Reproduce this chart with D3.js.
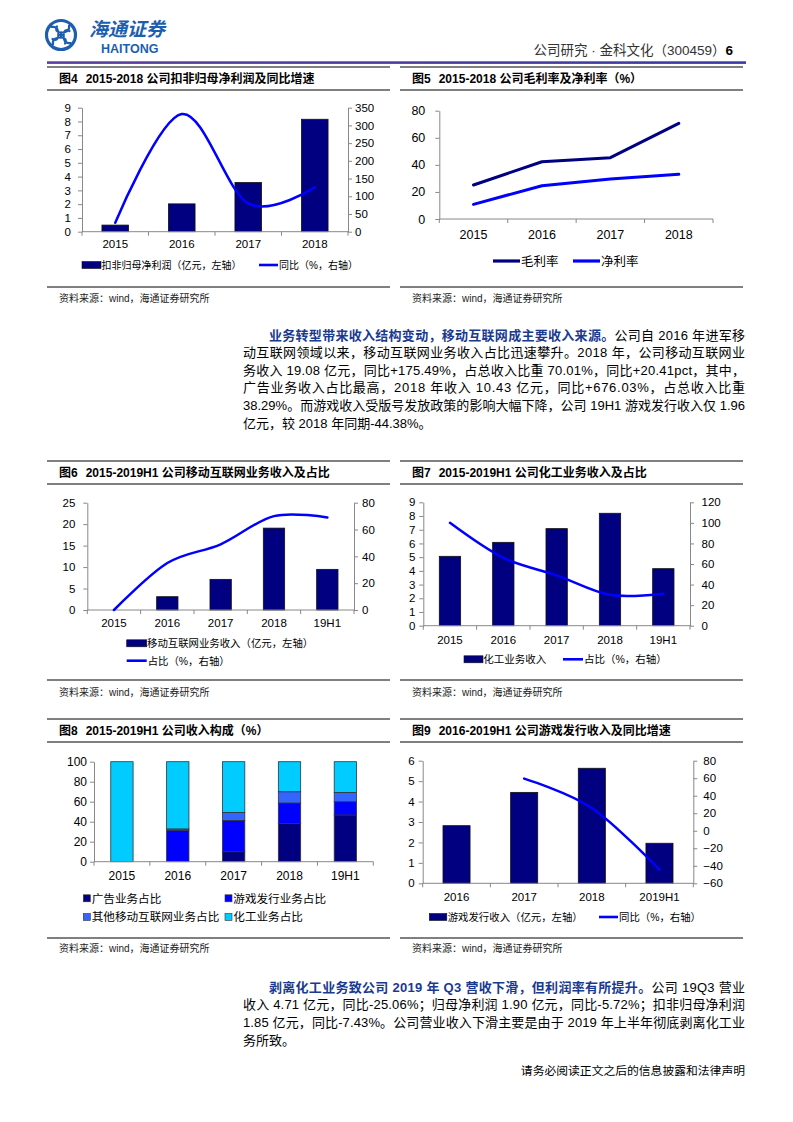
<!DOCTYPE html>
<html><head><meta charset="utf-8">
<script src="https://cdn.jsdelivr.net/npm/d3@7"></script>
<style>body{margin:0;background:#fff} svg{display:block}</style>
</head><body><svg id="pg" width="793" height="1122"></svg>
<script>
const CJK = "'Noto Sans CJK SC', sans-serif";
const NUM = "'Liberation Sans', Arial, 'Noto Sans CJK SC', sans-serif";

// ---------------- data ----------------
const years4 = ["2015", "2016", "2017", "2018"];
const kfProfit = [0.48, 2.02, 3.57, 8.16];          // 扣非归母净利润（亿元）
const kfProfitYoY = [25, 332, 80, 125];              // 同比 %
const grossMargin = [25.1, 42.3, 45.3, 70.6];        // 毛利率
const netMargin = [10.8, 24.6, 29.5, 33.0];          // 净利率
const years5 = ["2015", "2016", "2017", "2018", "19H1"];
const mobileRev = [0, 3.1, 7.14, 19.08, 9.47];       // 移动互联网业务收入
const mobileShare = [0, 35, 49, 70.01, 69];          // 占比 %
const chemRev = [5.06, 6.08, 7.08, 8.2, 4.16];       // 化工业务收入
const chemShare = [100, 66, 49, 30, 31];             // 占比 %
const adShare = [0, 0, 10, 38.29, 46.7];             // 广告业务占比
const gameShare = [0, 31.5, 31.3, 20.4, 13.3];       // 游戏发行业务占比
const otherMobileShare = [0, 1.3, 8, 11.3, 9.3];     // 其他移动互联网业务占比
const chemShareStack = [100, 67.2, 50.7, 30, 30.7];  // 化工业务占比
const gameYears = ["2016", "2017", "2018", "2019H1"];
const gameRev = [2.82, 4.45, 5.63, 1.96];            // 游戏发行收入
const gameYoY = [null, 59.5, 26, -44.38];            // 同比 %

const leftTicks4 = d3.range(0, 10, 1), rightTicks4 = d3.range(0, 351, 50);
const ticks5 = d3.range(0, 81, 20);
const leftTicks6 = d3.range(0, 26, 5), rightTicks6 = d3.range(0, 81, 20);
const leftTicks7 = d3.range(0, 10, 1), rightTicks7 = d3.range(0, 121, 20);
const ticks8 = d3.range(0, 101, 20);
const leftTicks9 = d3.range(0, 7, 1), rightTicks9 = d3.range(-60, 81, 20);

const NAVY = "#000080", BLUE = "#0000FF";
const svg = d3.select("#pg");

// ---------------- header ----------------
const lg = svg.append("g").attr("transform", "translate(61,35)");
lg.append("circle").attr("r", 14.5).attr("fill", "none").attr("stroke", "#1d5fae").attr("stroke-width", 3.2);
for (let k = 0; k < 4; k++) {
  lg.append("path").attr("transform", `rotate(${k * 90})`)
    .attr("d", "M0,-2.5 C5,-2.5 9,-4 8,-9.5 M2.5,0 C2.5,-4 5,-6 8.5,-4")
    .attr("fill", "none").attr("stroke", "#1d5fae").attr("stroke-width", 2.2).attr("stroke-linecap", "round");
}
lg.append("path").attr("d", "M-3,0H3M0,-3V3").attr("stroke", "#1d5fae").attr("stroke-width", 2);
svg.append("text").attr("x", 89).attr("y", 36).attr("font-family", CJK).attr("font-weight", 700)
  .attr("font-size", 19).attr("fill", "#1d5fae").attr("font-style", "italic").text("海通证券");
svg.append("text").attr("x", 101).attr("y", 53).attr("font-family", NUM).attr("font-weight", 700)
  .attr("font-size", 12.5).attr("fill", "#1d5fae").text("HAITONG");
const ht = svg.append("text").attr("x", 733).attr("y", 55).attr("text-anchor", "end")
  .attr("font-family", NUM).attr("font-size", 13.5).attr("fill", "#333");
ht.append("tspan").text("公司研究 · 金科文化（300459）");
ht.append("tspan").attr("font-weight", 700).attr("fill", "#000").text("6");
const grad = svg.append("defs").append("linearGradient").attr("id", "hg");
grad.append("stop").attr("offset", "0").attr("stop-color", "#5a3f9c");
grad.append("stop").attr("offset", "1").attr("stop-color", "#3a3aa6");
svg.append("rect").attr("x", 47).attr("y", 61.3).attr("width", 699).attr("height", 2.6).attr("fill", "url(#hg)");

// ---------------- panel frames ----------------
function frame(x0, x1, yTop, yBot, yBottomLine, num, title, srcY) {
  svg.append("line").attr("x1", x0).attr("x2", x1).attr("y1", yTop).attr("y2", yTop).attr("stroke", "#000").attr("stroke-width", 1);
  svg.append("line").attr("x1", x0).attr("x2", x1).attr("y1", yBot).attr("y2", yBot).attr("stroke", "#000").attr("stroke-width", 1);
  const t = svg.append("text").attr("x", x0 + 12).attr("y", (yTop + yBot) / 2 + 4.3).attr("font-family", NUM)
    .attr("font-weight", 700).attr("font-size", 12).attr("fill", "#000");
  t.append("tspan").text(num);
  t.append("tspan").attr("dx", 8).text(title);
  svg.append("line").attr("x1", x0).attr("x2", x1).attr("y1", yBottomLine).attr("y2", yBottomLine).attr("stroke", "#000").attr("stroke-width", 1);
  svg.append("text").attr("x", x0 + 12).attr("y", srcY).attr("font-family", NUM)
    .attr("font-size", 10).attr("fill", "#222").text("资料来源：wind，海通证券研究所");
}
frame(47, 390, 67, 90, 287, "图4", "2015-2018 公司扣非归母净利润及同比增速", 301.5);
frame(400, 743, 67, 90, 287, "图5", "2015-2018 公司毛利率及净利率（%）", 301.5);
frame(47, 390, 461, 484, 680, "图6", "2015-2019H1 公司移动互联网业务收入及占比", 695.5);
frame(400, 743, 461, 484, 680, "图7", "2015-2019H1 公司化工业务收入及占比", 695.5);
frame(47, 390, 719, 742, 938, "图8", "2015-2019H1 公司收入构成（%）", 951.5);
frame(400, 743, 719, 742, 938, "图9", "2016-2019H1 公司游戏发行收入及同比增速", 951.5);

// ---------------- chart helpers ----------------
function styleAxis(sel, fs) {
  sel.selectAll("path.domain").attr("stroke", "#888").attr("stroke-width", 1);
  sel.selectAll(".tick line").attr("stroke", "#888");
  sel.selectAll("text").attr("font-family", NUM).attr("font-size", fs).attr("fill", "#000");
}
function chart(o) {
  const g = svg.append("g");
  const x = d3.scaleBand().domain(o.cats).range([o.x0, o.x1]).paddingInner(0.6).paddingOuter(0.3);
  const yL = d3.scaleLinear().domain(o.lDom).range([o.yB, o.yT]);
  const yR = o.rDom ? d3.scaleLinear().domain(o.rDom).range([o.yB, o.yT]) : null;
  const fs = o.fs || 11.5;
  const ga = g.append("g").attr("transform", `translate(${o.x0},0)`)
    .call(d3.axisLeft(yL).tickValues(o.lTicks).tickSize(4).tickSizeOuter(0).tickPadding(o.lPad).tickFormat(d3.format("d")));
  styleAxis(ga, fs);
  if (yR) {
    const gr = g.append("g").attr("transform", `translate(${o.x1},0)`)
      .call(d3.axisRight(yR).tickValues(o.rTicks).tickSize(4).tickSizeOuter(0).tickPadding(o.rPad).tickFormat(d3.format("d")));
    styleAxis(gr, fs);
  }
  if (o.bars) {
    g.selectAll("rect.b").data(o.cats.map((c, i) => ({ c, v: o.bars[i] })).filter(d => d.v > 0)).join("rect")
      .attr("x", d => x(d.c)).attr("width", x.bandwidth())
      .attr("y", d => yL(d.v)).attr("height", d => yL(0) - yL(d.v))
      .attr("fill", NAVY).attr("stroke", "#111").attr("stroke-width", 0.8);
  }
  if (o.stack) {
    const rows = o.cats.map((c, i) => { const r = { c }; o.stack.keys.forEach((k, j) => r[k] = o.stack.vals[j][i]); return r; });
    const st = d3.stack().keys(o.stack.keys)(rows);
    st.forEach((layer, j) => {
      g.selectAll(null).data(layer.filter(d => d[1] - d[0] > 0)).join("rect")
        .attr("x", d => x(d.data.c)).attr("width", x.bandwidth())
        .attr("y", d => yL(d[1])).attr("height", d => yL(d[0]) - yL(d[1]))
        .attr("fill", o.stack.colors[j]).attr("stroke", "#333").attr("stroke-width", 0.8);
    });
  }
  const gx = g.append("g").attr("transform", `translate(0,${o.yB})`)
    .call(d3.axisBottom(x).tickSize(0).tickPadding(o.xPad));
  gx.select("path.domain").remove();
  styleAxis(gx, fs);
  g.append("line").attr("x1", o.x0).attr("x2", o.x1).attr("y1", o.yB).attr("y2", o.yB).attr("stroke", "#888");
  const bounds = o.cats.map(c => x(c) - x.step() * x.paddingInner() / 2).concat([o.x1]);
  g.selectAll("line.xt").data(bounds).join("line")
    .attr("x1", d => d).attr("x2", d => d).attr("y1", o.yB).attr("y2", o.yB + 4).attr("stroke", "#888");
  (o.lines || []).forEach(L => {
    const sc = L.axis === "right" ? yR : yL;
    const pts = o.cats.map((c, i) => ({ c, v: L.vals[i] }));
    const gen = d3.line().defined(d => d.v != null)
      .x(d => x(d.c) + x.bandwidth() / 2).y(d => sc(d.v))
      .curve(L.smooth ? d3.curveCardinal.tension(0) : d3.curveLinear);
    g.append("path").attr("d", gen(pts)).attr("fill", "none").attr("stroke", L.color)
      .attr("stroke-width", L.w || 2.5).attr("stroke-linejoin", "round").attr("stroke-linecap", "round");
  });
}
function legend(items, fs) {
  items.forEach(it => {
    if (it.type === "bar") {
      svg.append("rect").attr("x", it.x).attr("y", it.y - 3.5).attr("width", it.w).attr("height", 7)
        .attr("fill", it.color).attr("stroke", "#111").attr("stroke-width", 0.6);
    } else if (it.type === "sq") {
      svg.append("rect").attr("x", it.x).attr("y", it.y - 3.5).attr("width", 7).attr("height", 7)
        .attr("fill", it.color).attr("stroke", "#333").attr("stroke-width", 0.6);
    } else {
      svg.append("line").attr("x1", it.x).attr("x2", it.x + it.w).attr("y1", it.y).attr("y2", it.y)
        .attr("stroke", it.color).attr("stroke-width", it.lw || 2.6);
    }
    svg.append("text").attr("x", it.tx).attr("y", it.y + fs * 0.38).attr("font-family", NUM)
      .attr("font-size", fs).attr("fill", "#000").text(it.text);
  });
}

// 图4
chart({ cats: years4, x0: 82, x1: 348, yT: 107.7, yB: 231.7, lDom: [0, 9], lTicks: leftTicks4,
  rDom: [0, 350], rTicks: rightTicks4, lPad: 7, rPad: 3, xPad: 8.5, fs: 11.5, bars: kfProfit,
  lines: [{ vals: kfProfitYoY, axis: "right", color: BLUE, smooth: true, w: 2.5 }] });
legend([
  { type: "bar", x: 82, w: 19, y: 265, color: NAVY, tx: 101.5, text: "扣非归母净利润（亿元，左轴）" },
  { type: "line", x: 259, w: 19, y: 265, color: BLUE, tx: 279, text: "同比（%，右轴）" }], 10);

// 图5
chart({ cats: years4, x0: 439.3, x1: 713, yT: 110.7, yB: 219, lDom: [0, 80], lTicks: ticks5,
  lPad: 10, xPad: 11, fs: 12.5,
  lines: [{ vals: grossMargin, color: NAVY, w: 3 }, { vals: netMargin, color: BLUE, w: 3 }] });
legend([
  { type: "line", x: 493, w: 27, y: 261, color: NAVY, lw: 3.2, tx: 521, text: "毛利率" },
  { type: "line", x: 573, w: 27, y: 261, color: BLUE, lw: 3.2, tx: 601, text: "净利率" }], 12.5);

// 图6
chart({ cats: years5, x0: 87.3, x1: 354, yT: 502.7, yB: 610, lDom: [0, 25], lTicks: leftTicks6,
  rDom: [0, 80], rTicks: rightTicks6, lPad: 8, rPad: 4, xPad: 9, fs: 11.5, bars: mobileRev,
  lines: [{ vals: mobileShare, axis: "right", color: BLUE, smooth: true, w: 2.5 }] });
legend([
  { type: "bar", x: 126.7, w: 20, y: 643.3, color: NAVY, tx: 147, text: "移动互联网业务收入（亿元，左轴）" },
  { type: "line", x: 126.7, w: 20, y: 660.7, color: BLUE, tx: 147.7, text: "占比（%，右轴）" }], 10.4);

// 图7
chart({ cats: years5, x0: 423.3, x1: 690, yT: 502.3, yB: 625.7, lDom: [0, 9], lTicks: leftTicks7,
  rDom: [0, 120], rTicks: rightTicks7, lPad: 4, rPad: 7.5, xPad: 10, fs: 11.5, bars: chemRev,
  lines: [{ vals: chemShare, axis: "right", color: BLUE, smooth: true, w: 2.5 }] });
legend([
  { type: "bar", x: 464, w: 19, y: 659.3, color: NAVY, tx: 483.3, text: "化工业务收入" },
  { type: "line", x: 563, w: 20, y: 659.3, color: BLUE, tx: 584, text: "占比（%，右轴）" }], 10.5);

// 图8
chart({ cats: years5, x0: 94, x1: 373.3, yT: 761.7, yB: 861.7, lDom: [0, 100], lTicks: ticks8,
  lPad: 3, xPad: 10, fs: 12,
  stack: { keys: ["ad", "game", "other", "chem"], vals: [adShare, gameShare, otherMobileShare, chemShareStack],
    colors: ["#000080", "#0000FF", "#3366FF", "#00CCFF"] } });
legend([
  { type: "sq", x: 83.3, y: 898.3, color: "#000080", tx: 91.7, text: "广告业务占比" },
  { type: "sq", x: 225, y: 898.3, color: "#0000FF", tx: 233.3, text: "游戏发行业务占比" },
  { type: "sq", x: 83.3, y: 917, color: "#3366FF", tx: 91.7, text: "其他移动互联网业务占比" },
  { type: "sq", x: 225, y: 917, color: "#00CCFF", tx: 233.3, text: "化工业务占比" }], 11.6);

// 图9
chart({ cats: gameYears, x0: 422.7, x1: 693.3, yT: 760.7, yB: 883.3, lDom: [0, 6], lTicks: leftTicks9,
  rDom: [-60, 80], rTicks: rightTicks9, lPad: 4, rPad: 6, xPad: 9.5, fs: 11.5, bars: gameRev,
  lines: [{ vals: gameYoY, axis: "right", color: BLUE, smooth: true, w: 2.5 }] });
legend([
  { type: "bar", x: 429.3, w: 17.5, y: 917, color: NAVY, tx: 447.7, text: "游戏发行收入（亿元，左轴）" },
  { type: "line", x: 599, w: 19, y: 917, color: BLUE, tx: 619, text: "同比（%，右轴）" }], 10.4);

// ---------------- body text ----------------
function para(lines, y0, dy) {
  lines.forEach((L, i) => {
    const t = svg.append("text").attr("x", L.x).attr("y", y0 + i * dy)
      .attr("font-family", NUM).attr("font-size", 13).attr("fill", "#000");
    if (L.bold) t.append("tspan").attr("font-weight", 700).attr("fill", "#1a3a8f").text(L.bold);
    t.append("tspan").text(L.text);
    if (L.j) t.attr("textLength", 745 - L.x).attr("lengthAdjust", "spacing");
  });
}
para([
  { x: 269, j: 1, bold: "业务转型带来收入结构变动，移动互联网成主要收入来源。", text: "公司自 2016 年进军移" },
  { x: 243, j: 1, text: "动互联网领域以来，移动互联网业务收入占比迅速攀升。2018 年，公司移动互联网业" },
  { x: 243, j: 1, text: "务收入 19.08 亿元，同比+175.49%，占总收入比重 70.01%，同比+20.41pct，其中，" },
  { x: 243, j: 1, text: "广告业务收入占比最高，2018 年收入 10.43 亿元，同比+676.03%，占总收入比重" },
  { x: 243, j: 1, text: "38.29%。而游戏收入受版号发放政策的影响大幅下降，公司 19H1 游戏发行收入仅 1.96" },
  { x: 243, j: 0, text: "亿元，较 2018 年同期-44.38%。" }], 339.5, 17.6);
para([
  { x: 269, j: 1, bold: "剥离化工业务致公司 2019 年 Q3 营收下滑，但利润率有所提升。", text: "公司 19Q3 营业" },
  { x: 243, j: 1, text: "收入 4.71 亿元，同比-25.06%；归母净利润 1.90 亿元，同比-5.72%；扣非归母净利润" },
  { x: 243, j: 1, text: "1.85 亿元，同比-7.43%。公司营业收入下滑主要是由于 2019 年上半年彻底剥离化工业" },
  { x: 243, j: 0, text: "务所致。" }], 991.5, 17.8);
svg.append("text").attr("x", 745).attr("y", 1074.5).attr("text-anchor", "end").attr("font-family", NUM)
  .attr("font-size", 11.8).attr("fill", "#000").text("请务必阅读正文之后的信息披露和法律声明");
</script></body></html>
